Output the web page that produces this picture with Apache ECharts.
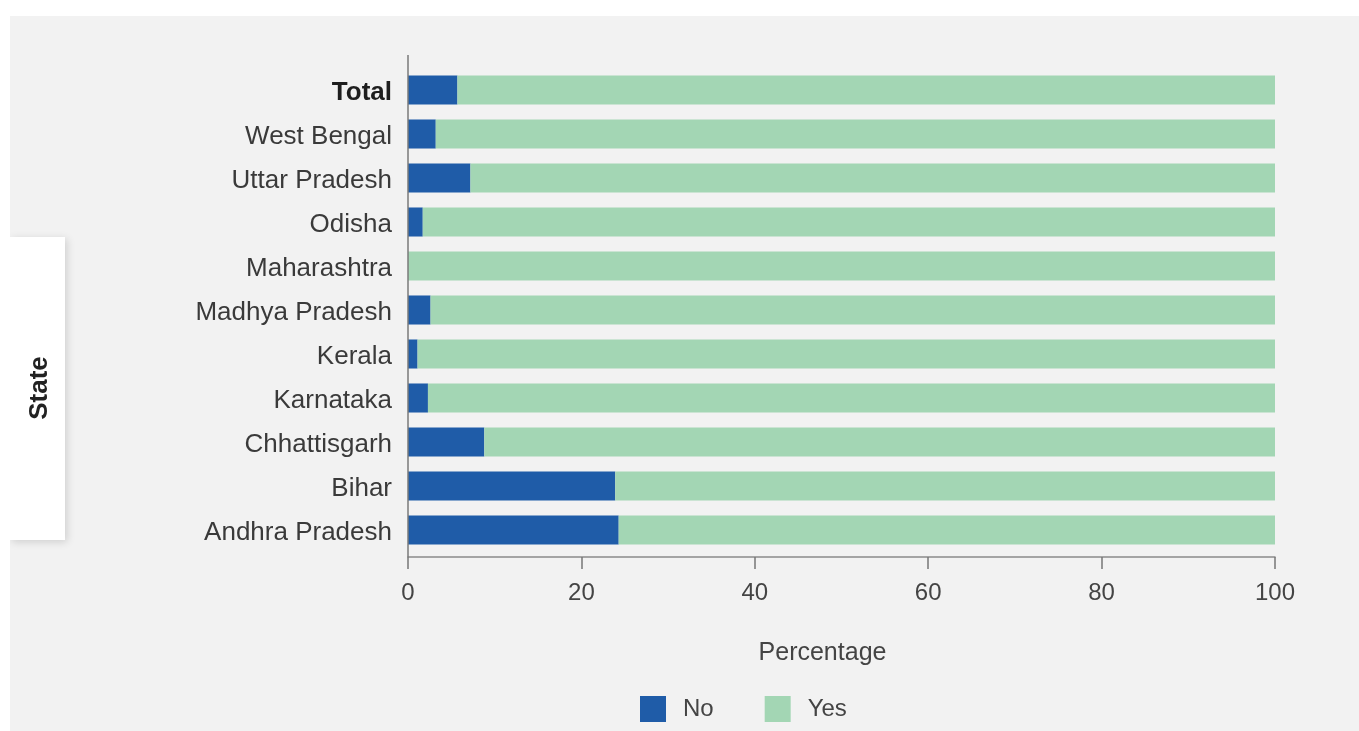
<!DOCTYPE html>
<html>
<head>
<meta charset="utf-8">
<script src="https://cdn.jsdelivr.net/npm/echarts@6/dist/echarts.min.js"></script>
<style>
html,body{margin:0;padding:0;background:#ffffff;width:1359px;height:731px;overflow:hidden;}
#chart{position:absolute;left:10px;top:16px;width:1349px;height:715px;}
</style>
</head>
<body>
<div id="chart"></div>
<script>
const categories = ['Andhra Pradesh','Bihar','Chhattisgarh','Karnataka','Kerala','Madhya Pradesh','Maharashtra','Odisha','Uttar Pradesh','West Bengal','Total'];
const noValues  = [24.3, 23.9, 8.8, 2.3, 1.1, 2.6, 0, 1.7, 7.2, 3.2, 5.7];
const yesValues = [75.7, 76.1, 91.2, 97.7, 98.9, 97.4, 100, 98.3, 92.8, 96.8, 94.3];
const xTicks = [0, 20, 40, 60, 80, 100];

const FONT = '"Liberation Sans", Arial, sans-serif';
const chart = echarts.init(document.getElementById('chart'));
chart.setOption({
  backgroundColor: '#f2f2f2',
  animation: false,
  textStyle: {fontFamily: FONT},
  grid: {left: 398, right: 84, top: 52, height: 484, containLabel: false},
  xAxis: {
    type: 'value', min: xTicks[0], max: xTicks[xTicks.length-1], interval: 20,
    offset: 5,
    name: 'Percentage', nameLocation: 'middle', nameGap: 84,
    nameTextStyle: {fontSize: 25, color: '#444', fontFamily: FONT, padding: [0, 38, 0, 0]},
    axisLine: {show: true, lineStyle: {color: '#8a8a8a', width: 1.5}},
    axisTick: {show: true, length: 12, lineStyle: {color: '#777', width: 1.5}},
    axisLabel: {fontSize: 24, color: '#444', margin: 24, fontFamily: FONT},
    splitLine: {show: false}
  },
  yAxis: {
    type: 'category', data: categories,
    axisLine: {show: false},
    axisTick: {show: false},
    axisLabel: {
      fontSize: 26, color: '#3a3a3a', margin: 16, fontFamily: FONT, padding: [6, 0, 0, 0],
      formatter: function (v) { return v === 'Total' ? '{b|' + v + '}' : v; },
      rich: {b: {fontWeight: 'bold', fontSize: 26, color: '#1e1e1e', fontFamily: FONT}}
    }
  },
  legend: {
    left: 625, top: 675, itemWidth: 26, itemHeight: 26, itemGap: 51,
    icon: 'rect',
    textStyle: {fontSize: 24, color: '#444', padding: [0, 0, 0, 12], fontFamily: FONT},
    data: ['No', 'Yes']
  },
  series: [
    {name: 'No', type: 'bar', stack: 's', data: noValues, barCategoryGap: '34%',
     itemStyle: {color: '#1f5ca8'}},
    {name: 'Yes', type: 'bar', stack: 's', data: yesValues, barCategoryGap: '34%',
     itemStyle: {color: '#a3d6b4'}}
  ],
  graphic: [
    {type: 'line', shape: {x1: 398, y1: 39, x2: 398, y2: 541}, style: {stroke: '#7a7a7a', lineWidth: 1.5}, z: 10},
    {type: 'rect', shape: {x: 0, y: 221, width: 55, height: 303},
     style: {fill: '#ffffff', shadowBlur: 8, shadowColor: 'rgba(0,0,0,0.15)', shadowOffsetX: 2, shadowOffsetY: 2}, z: 5},
    {type: 'text', x: 30, y: 372, rotation: Math.PI / 2,
     style: {text: 'State', font: 'bold 26px ' + FONT, fill: '#222', align: 'center', verticalAlign: 'middle'}, z: 6}
  ]
});
</script>
</body>
</html>
